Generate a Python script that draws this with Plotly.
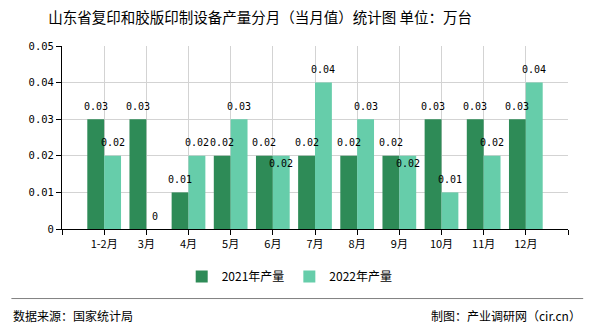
import plotly.graph_objects as go

categories = ["1-2月", "3月", "4月", "5月", "6月", "7月", "8月", "9月", "10月", "11月", "12月"]
values_2021 = [0.03, 0.03, 0.01, 0.02, 0.02, 0.02, 0.02, 0.02, 0.03, 0.03, 0.03]
values_2022 = [0.02, 0, 0.02, 0.03, 0.02, 0.04, 0.03, 0.02, 0.01, 0.02, 0.04]
series_names = ["2021年产量", "2022年产量"]
colors = ["#2E8B57", "#66CDAA"]
y_ticks = [0, 0.01, 0.02, 0.03, 0.04, 0.05]
y_ticktext = ["0", "0.01", "0.02", "0.03", "0.04", "0.05"]

FONT = "Noto Sans CJK SC"
NUMFONT = "DejaVu Sans Mono"
xs = list(range(len(categories)))

def fmt(v):
    return "0" if v == 0 else f"{v:g}"

fig = go.Figure()
for name, vals, col, off in [(series_names[0], values_2021, colors[0], -0.4),
                              (series_names[1], values_2022, colors[1], 0.0)]:
    fig.add_trace(go.Bar(
        x=xs, y=vals, name=name, marker=dict(color=col, line=dict(width=0)),
        width=0.4, offset=off, textposition="none",
    ))

# value labels
for i, x in enumerate(xs):
    v1, v2 = values_2021[i], values_2022[i]
    fig.add_annotation(x=x - 0.2, y=v1, text=fmt(v1), showarrow=False,
                       xref="x", yref="y", yanchor="middle", yshift=13,
                       font=dict(size=10, color="#000", family=NUMFONT))
    shift = -8 if (v2 == v1 and v2 != 0) else 13
    fig.add_annotation(x=x + 0.2, y=v2, text=fmt(v2), showarrow=False,
                       xref="x", yref="y", yanchor="middle", yshift=shift,
                       font=dict(size=10, color="#000", family=NUMFONT))

fig.update_layout(
    width=590, height=330,
    margin=dict(l=62, r=22, t=46, b=101),
    paper_bgcolor="white", plot_bgcolor="white",
    barmode="overlay",
    font=dict(family=FONT, size=11, color="#000"),
    title=dict(text="山东省复印和胶版印制设备产量分月（当月值）统计图 单位：万台",
               xref="container", x=0.441, xanchor="center", y=0.945, yanchor="middle",
               font=dict(size=14.5, color="#000", family=FONT)),
    showlegend=True,
    legend=dict(orientation="h", x=0.45, xanchor="center", y=-0.26, yanchor="middle",
                font=dict(size=12, family=FONT), itemwidth=30, traceorder="normal"),
    xaxis=dict(range=[-1, 11], tickvals=list(range(-1, 12)),
               ticktext=[""] + categories + [""],
               showgrid=True, gridcolor="#d3d3d3", gridwidth=1,
               showline=True, linecolor="#000", linewidth=1,
               ticks="outside", ticklen=5, tickcolor="#000",
               tickfont=dict(size=11), zeroline=False, fixedrange=True),
    yaxis=dict(range=[0, 0.05], tickvals=y_ticks, ticktext=y_ticktext,
               showgrid=True, gridcolor="#d3d3d3", gridwidth=1,
               showline=True, linecolor="#000", linewidth=1,
               ticks="outside", ticklen=5, tickcolor="#000",
               tickfont=dict(size=10.5, family=NUMFONT), zeroline=False, fixedrange=True),
)

fig.add_shape(type="line", xref="paper", yref="paper",
              x0=-0.1, x1=1.03, y0=-0.38, y1=-0.38,
              line=dict(color="#808080", width=1))
fig.add_annotation(text="数据来源：国家统计局", xref="paper", yref="paper",
                   x=-0.1, y=-0.47, xanchor="left", yanchor="middle",
                   showarrow=False, font=dict(size=12, color="#000", family=FONT))
fig.add_annotation(text="制图：产业调研网（cir.cn）", xref="paper", yref="paper",
                   x=1.03, y=-0.47, xanchor="right", yanchor="middle",
                   showarrow=False, font=dict(size=12, color="#000", family=FONT))

fig.write_html("out.html")
